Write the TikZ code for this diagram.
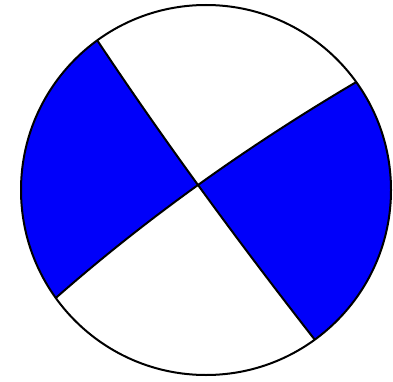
\documentclass[tikz,border=0pt]{standalone}
\usetikzlibrary{calc}
\begin{document}
\begin{tikzpicture}[x=1pt,y=1pt,line join=round,
  outline/.style={draw=black,line width=2pt},
  quad/.style={fill={rgb,255:red,0;green,0;blue,250}}]
\useasboundingbox (0,0) rectangle (393,381);
\fill[white] (0,0) rectangle (393,381);
\coordinate (O) at (206,191);
\coordinate (M) at (198,196);
\coordinate (C) at (190,201);
\coordinate (P1) at ($(O)+(126:185)$);
\coordinate (P3) at ($(O)+(306:185)$);
\coordinate (P2) at ($(O)+(35.7:185)$);
\coordinate (P4) at ($(O)+(215.7:185)$);
\coordinate (Q1) at ($(P1)!0.5!(C)$);
\coordinate (Q2) at ($(P2)!0.5!(C)$);
\coordinate (Q3) at ($(P3)!0.5!(C)$);
\coordinate (Q4) at ($(P4)!0.5!(C)$);
% blue quadrants
\fill[quad] (P1) arc[start angle=126,end angle=215.7,radius=185]
  .. controls ($(P4)!2/3!(Q4)$) and ($(M)!2/3!(Q4)$) .. (M)
  .. controls ($(M)!2/3!(Q1)$) and ($(P1)!2/3!(Q1)$) .. (P1) -- cycle;
\fill[quad] (P3) arc[start angle=306,end angle=395.7,radius=185]
  .. controls ($(P2)!2/3!(Q2)$) and ($(M)!2/3!(Q2)$) .. (M)
  .. controls ($(M)!2/3!(Q3)$) and ($(P3)!2/3!(Q3)$) .. (P3) -- cycle;
% nodal lines
\draw[outline] (P1) .. controls ($(P1)!2/3!(Q1)$) and ($(M)!2/3!(Q1)$) .. (M)
  .. controls ($(M)!2/3!(Q3)$) and ($(P3)!2/3!(Q3)$) .. (P3);
\draw[outline] (P2) .. controls ($(P2)!2/3!(Q2)$) and ($(M)!2/3!(Q2)$) .. (M)
  .. controls ($(M)!2/3!(Q4)$) and ($(P4)!2/3!(Q4)$) .. (P4);
\draw[outline] (O) circle[radius=185];
\end{tikzpicture}
\end{document}
